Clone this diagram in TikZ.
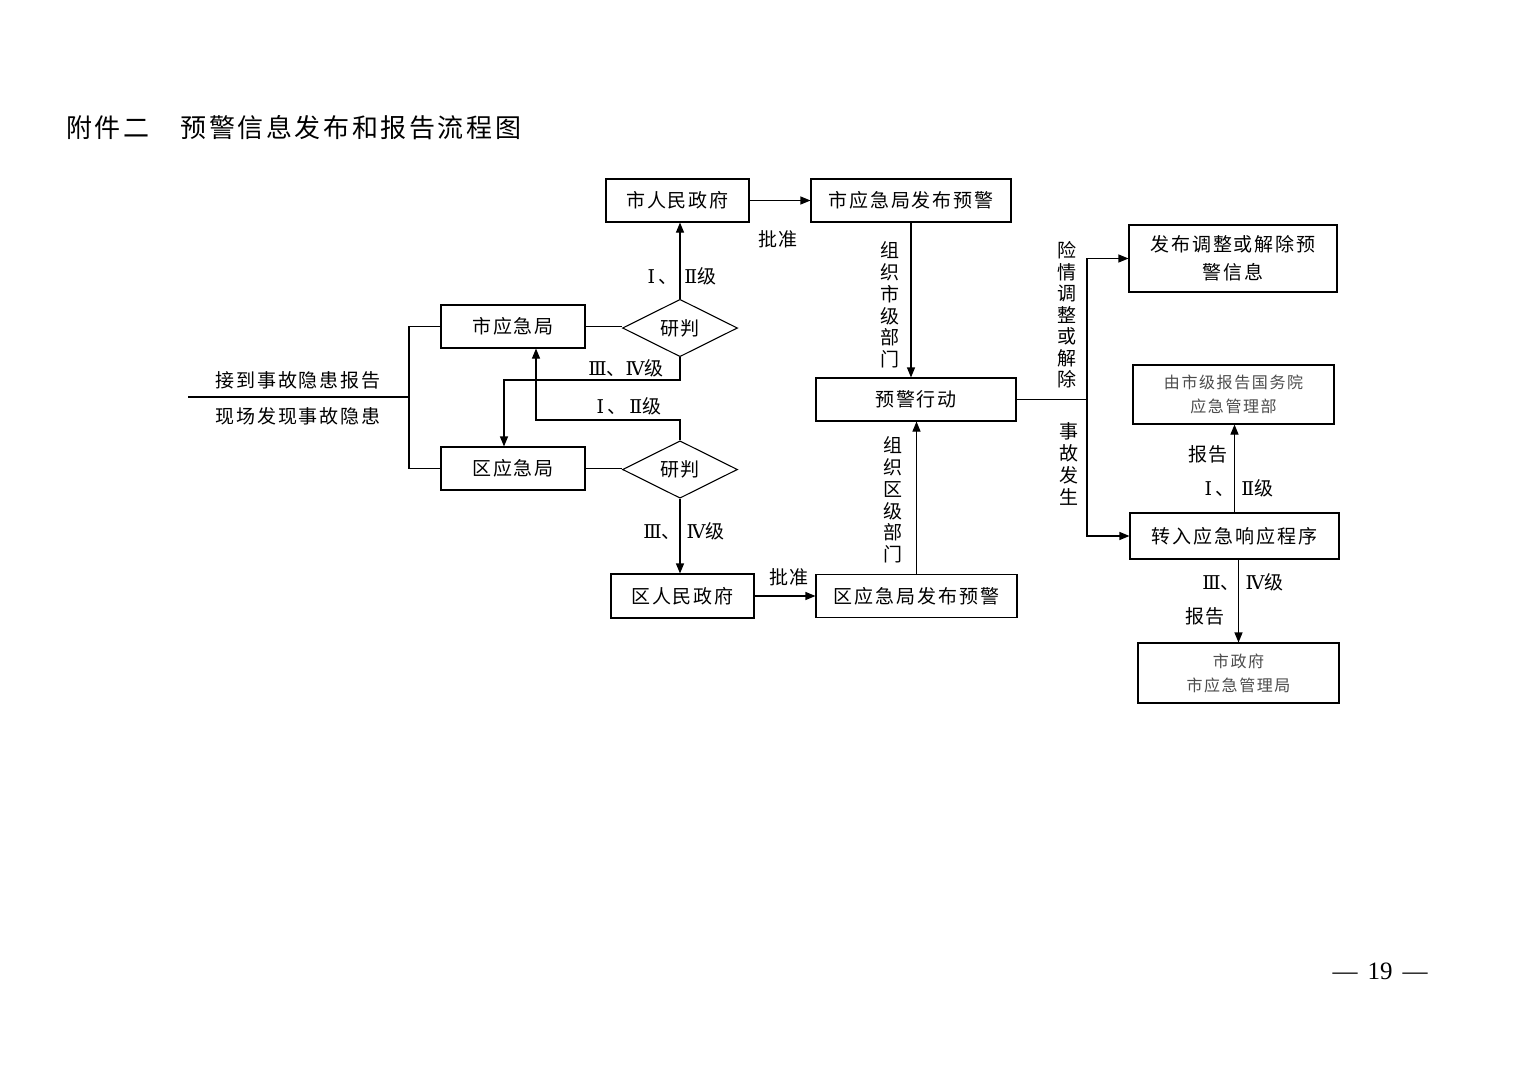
\documentclass[tikz,border=0pt]{standalone}
\usepackage{fontspec}
\setmainfont{Noto Sans CJK SC}
\newfontfamily\cjk[LetterSpace=10]{Noto Sans CJK SC}
\newfontfamily\rmn{DejaVu Serif}
\newfontfamily\tms{Liberation Serif}
\usetikzlibrary{shapes.geometric,arrows.meta}
\newcommand{\RI}{{\rmn Ⅰ}}
\newcommand{\RII}{{\rmn Ⅱ}}
\newcommand{\RIII}{{\rmn Ⅲ}}
\newcommand{\RIV}{{\rmn Ⅳ}}
\begin{document}
\begin{tikzpicture}[x=1pt,y=-1pt,
  txt/.style={font=\cjk\fontsize{19}{22}\selectfont},
  box/.style={draw,line width=1.1pt,inner sep=0pt,align=center,txt},
  dia/.style={draw,diamond,line width=1.1pt,inner sep=0pt,minimum width=115pt,minimum height=52pt,txt},
  lbl/.style={inner sep=0pt,align=center,txt},
  small/.style={font=\cjk\fontsize{16}{24}\selectfont,text=black!70},
  con/.style={line width=1.1pt},
  arr/.style={con,-{Triangle[length=10pt,width=8pt]}}]
\useasboundingbox (0,0) rectangle (1520,1074);
\fill[white] (0,0) rectangle (1520,1074);

% title
\node[anchor=west,inner sep=0pt,font=\cjk\fontsize{26}{30}\selectfont] (title) at (66,128) {附件二　预警信息发布和报告流程图};

% boxes
\node[box,minimum width=143pt,minimum height=43pt] (srm) at (677.5,200.5) {市人民政府};
\node[box,minimum width=200pt,minimum height=43pt] (sfb) at (911,200.5) {市应急局发布预警};
\node[box,minimum width=144pt,minimum height=43pt] (sj) at (513,326.5) {市应急局};
\node[box,minimum width=144pt,minimum height=43pt] (qj) at (513,468.5) {区应急局};
\node[dia] (yp1) at (680,328) {研判};
\node[dia] (yp2) at (680,469.5) {研判};
\node[box,minimum width=143pt,minimum height=44pt] (qrm) at (682.5,596) {区人民政府};
\node[box,minimum width=201pt,minimum height=43pt] (qfb) at (916.5,596) {区应急局发布预警};
\node[box,minimum width=200pt,minimum height=43pt] (yj) at (916,399.5) {预警行动};
\node[box,minimum width=208pt,minimum height=67pt,font=\cjk\fontsize{19}{28}\selectfont] (fb) at (1233,258.5) {发布调整或解除预\\警信息};
\node[box,small,minimum width=201pt,minimum height=59pt] (bg) at (1233.5,394.5) {由市级报告国务院\\应急管理部};
\node[box,minimum width=209pt,minimum height=46pt] (zr) at (1234.5,536) {转入应急响应程序};
\node[box,small,minimum width=201pt,minimum height=60pt] (sz) at (1238.5,673) {市政府\\市应急管理局};

% left inputs
\node[lbl] (in1) at (298,380) {接到事故隐患报告};
\node[lbl] (in2) at (298,416) {现场发现事故隐患};
\coordinate (lb) at (188,397);
\coordinate (lj) at (409,397);
\draw[con] (lb) -- (lj);
\draw[con] (sj.west) -| (lj) |- (qj.west);

% city / district branch
\draw[con] (sj.east) -- (sj.east -| yp1.west);
\draw[con] (qj.east) -- (qj.east -| yp2.west);
\draw[arr] (yp1.north) -- (yp1.north |- srm.south);
\node[lbl] (l1) at (682,276) {\RI\,、\hspace{7pt}\RII 级};
\coordinate (c1) at (504,380);
\draw[arr] (yp1.south) |- (c1) -- (c1 |- qj.north);
\node[lbl] (l2) at (626,368) {\RIII 、\RIV 级};
\coordinate (c2) at (536,420);
\draw[arr] (yp2.north) |- (c2) -- (c2 |- sj.south);
\node[lbl] (l3) at (629,406) {\RI\,、\hspace{3pt}\RII 级};
\draw[arr] (yp2.south) -- (yp2.south |- qrm.north);
\node[lbl] (l4) at (684,531) {\RIII 、\hspace{6pt}\RIV 级};

% approvals
\draw[arr] (srm.east) -- (srm.east -| sfb.west);
\node[lbl] (pz1) at (778,239) {批准};
\draw[arr] (qrm.east) -- (qrm.east -| qfb.west);
\node[lbl] (pz2) at (789,577) {批准};

% to warning action
\draw[arr] (sfb.south) -- (sfb.south |- yj.north);
\node[lbl,font=\cjk\fontsize{19}{21.8}\selectfont] (v1) at (890,305) {组\\织\\市\\级\\部\\门};
\draw[arr] (qfb.north) -- (qfb.north |- yj.south);
\node[lbl,font=\cjk\fontsize{19}{21.8}\selectfont] (v2) at (893,500) {组\\织\\区\\级\\部\\门};

% right branch
\coordinate (rj) at (1087,399.5);
\draw[con] (yj.east) -- (rj);
\draw[arr] (rj) |- (fb.west);
\draw[arr] (rj) |- (zr.west);
\node[lbl,font=\cjk\fontsize{19}{21.5}\selectfont] (v3) at (1067,315) {险\\情\\调\\整\\或\\解\\除};
\node[lbl,font=\cjk\fontsize{19}{22}\selectfont] (v4) at (1069,464) {事\\故\\发\\生};

\draw[arr] (zr.north) -- (zr.north |- bg.south);
\node[lbl] (r1) at (1208,454) {报告};
\node[lbl] (r2) at (1239,488) {\RI\,、\hspace{7pt}\RII 级};
\draw[arr] (sz.north |- zr.south) -- (sz.north);
\node[lbl] (r3) at (1243,582) {\RIII 、\hspace{6pt}\RIV 级};
\node[lbl] (r4) at (1205,616) {报告};

% page number
\node[inner sep=0pt,font=\tms\fontsize{25}{28}\selectfont] (pg) at (1380,971) {—\hspace{10pt}19\hspace{10pt}—};
\end{tikzpicture}
\end{document}
